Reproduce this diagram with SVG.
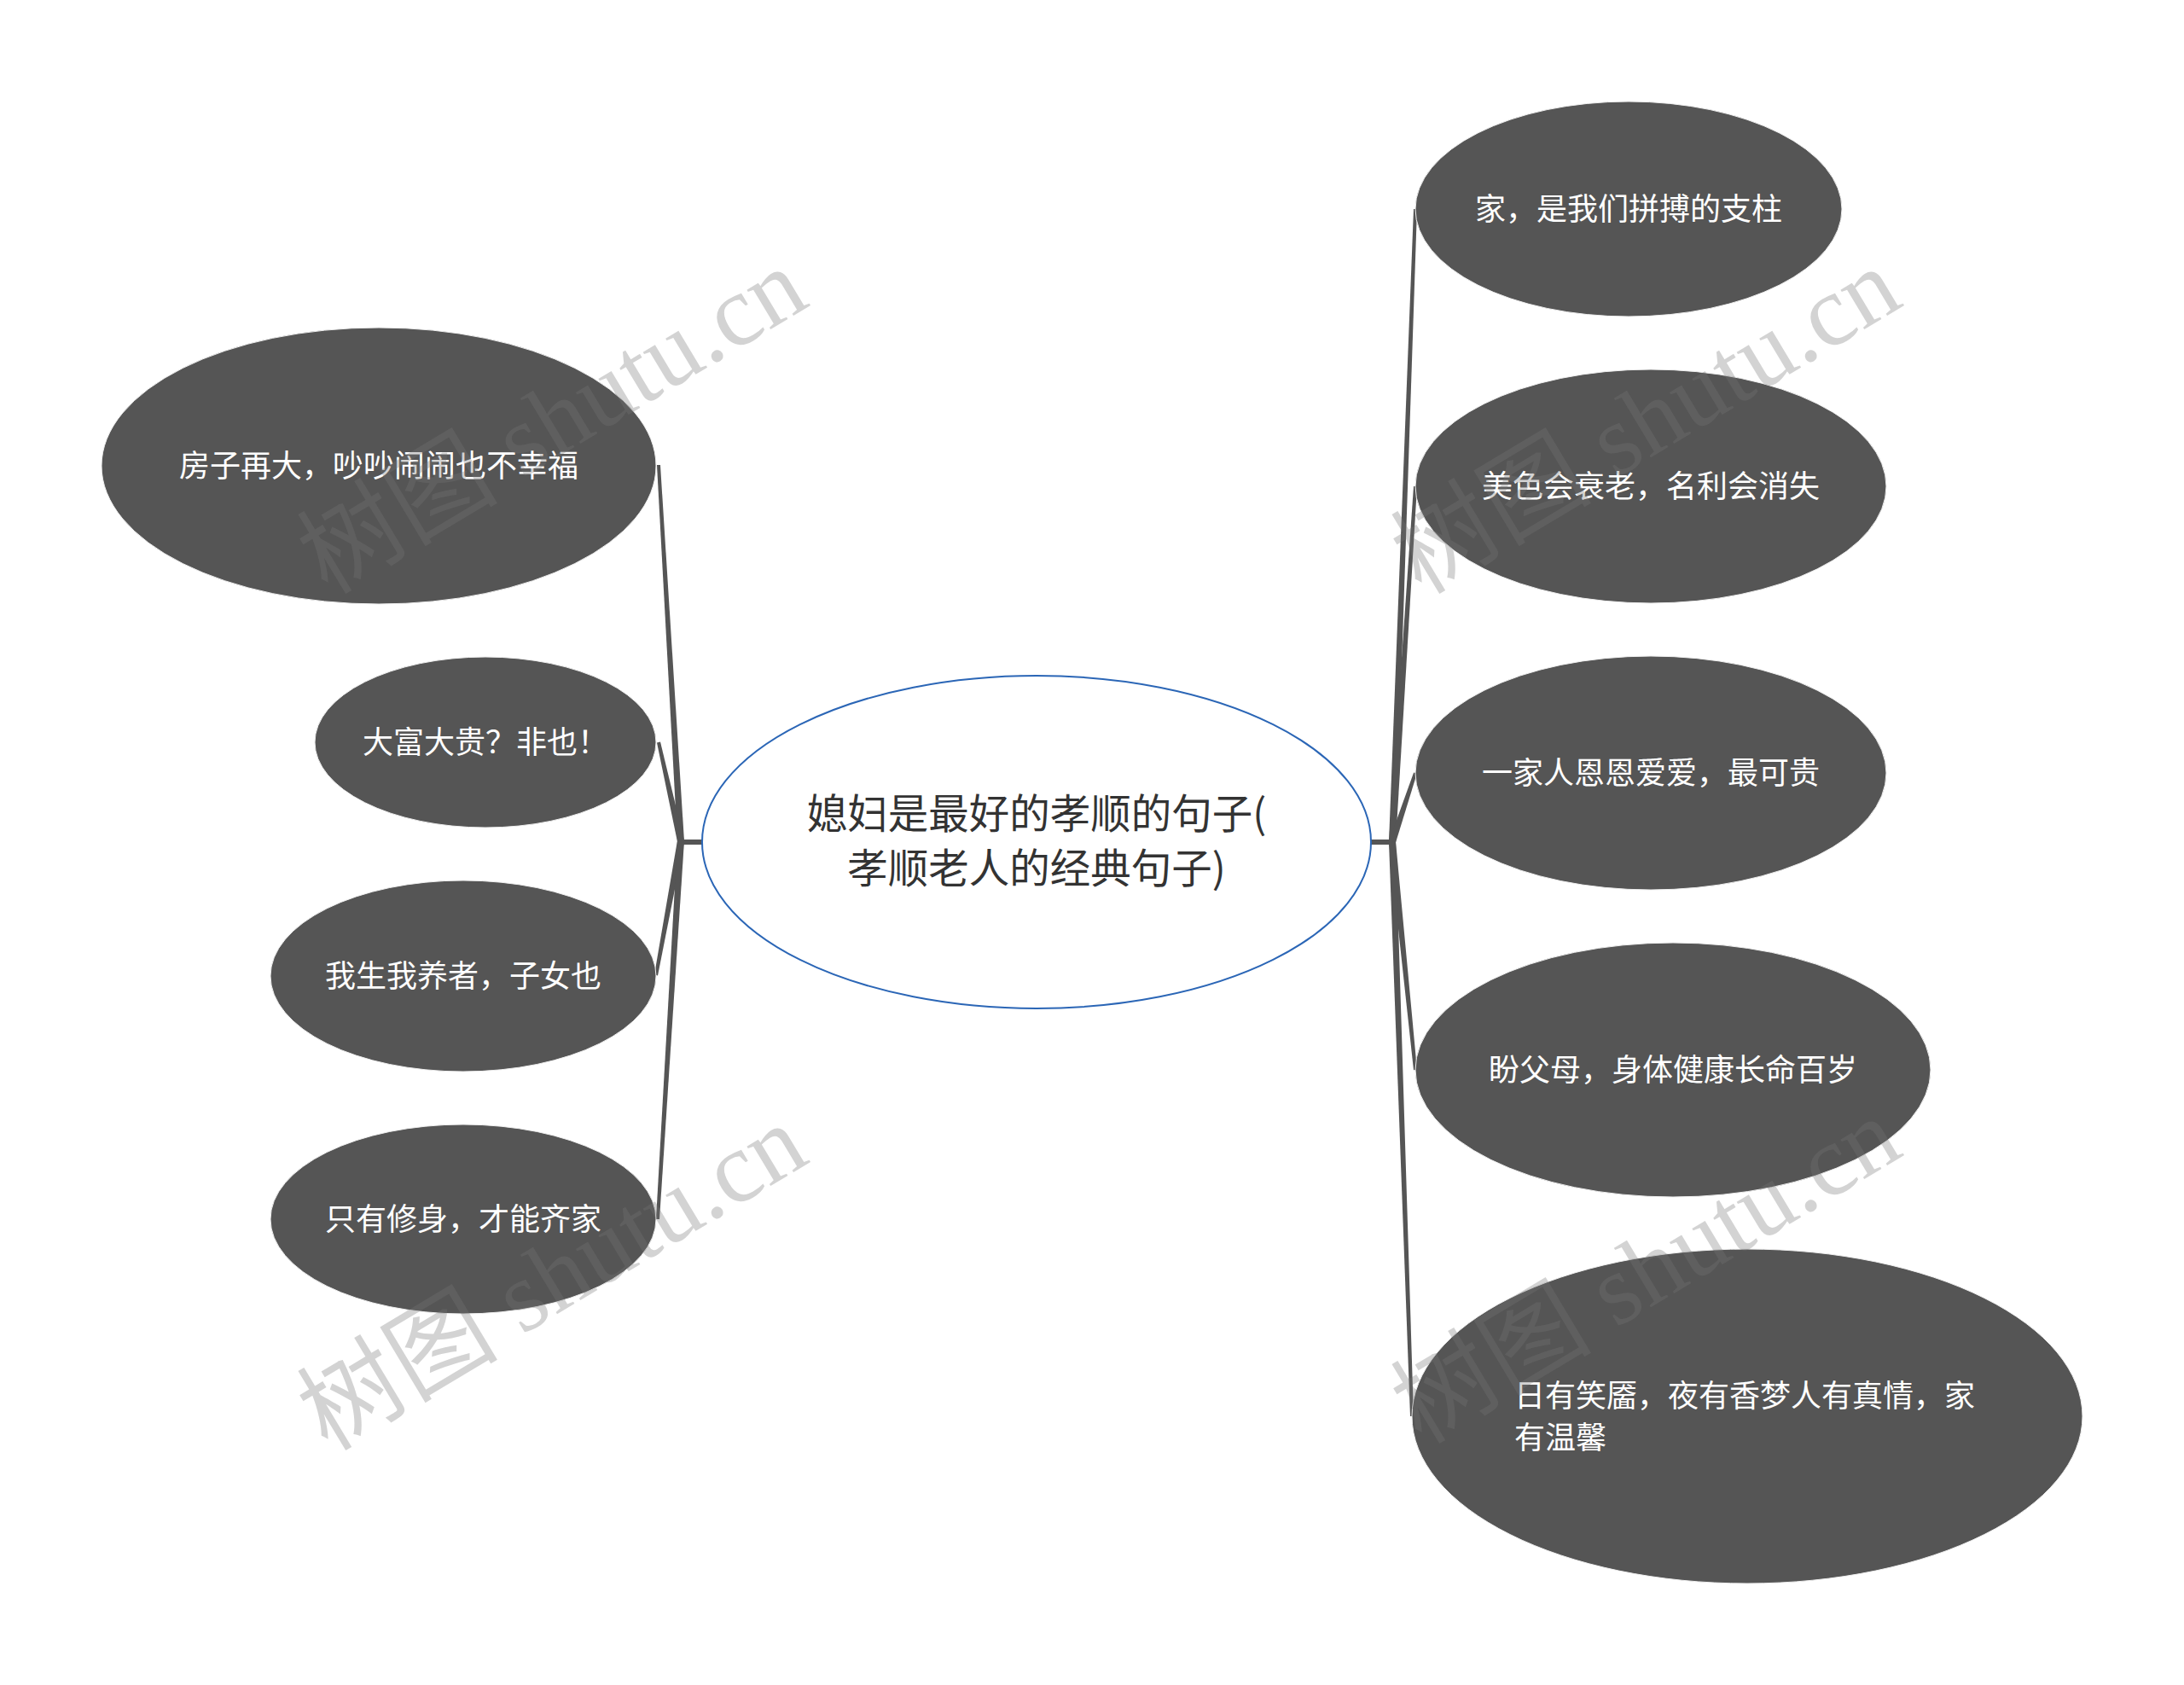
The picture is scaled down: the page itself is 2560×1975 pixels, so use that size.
<svg xmlns="http://www.w3.org/2000/svg" width="2560" height="1975" viewBox="0 0 2560 1975">
<style>
.bg{fill:#ffffff}
.node{fill:#555555;stroke:#eeeeee;stroke-width:1}
.root{fill:#ffffff;stroke:#2b66b6;stroke-width:2}
.conn{fill:#555555;stroke:none}
.lbl{font-family:"Noto Sans CJK SC","Noto Sans",sans-serif;font-size:36px;fill:#ffffff}
.rootlbl{font-family:"Noto Sans CJK SC","Noto Sans",sans-serif;font-size:47.5px;fill:#333333;text-anchor:middle}
.mid{text-anchor:middle}
.wm{font-family:"Liberation Serif","Noto Sans CJK SC",serif;font-size:118px;fill:#767676;fill-opacity:0.32}
</style>
<rect class="bg" x="0" y="0" width="2560" height="1975"/>
<g id="connectors">
<rect class="conn" x="798" y="984" width="25" height="6"/>
<rect class="conn" x="1607" y="984" width="25" height="6"/>
<path class="conn" d="M794 986 L802 986 L774 545 L770 545 Z"/>
<path class="conn" d="M801.9 985.1 L774 869.6 L770 870.4 L794.1 986.9 Z"/>
<path class="conn" d="M802 986.7 L771 1143.4 L767 1142.6 L794 985.3 Z"/>
<path class="conn" d="M802 986 L773 1429 L769 1429 L794 986 Z"/>
<path class="conn" d="M1628 987 L1636 987 L1661 245 L1657 245 Z"/>
<path class="conn" d="M1628 987 L1636 987 L1661 570 L1657 570 Z"/>
<path class="conn" d="M1635.8 988.3 L1660.9 906.6 L1657.1 905.4 L1628.2 985.7 Z"/>
<path class="conn" d="M1636 986.6 L1661 1253.8 L1657 1254.2 L1628 987.4 Z"/>
<path class="conn" d="M1636 987 L1657 1660 L1653 1660 L1628 987 Z"/>
</g>
<g id="root">
<ellipse class="root" cx="1215" cy="987" rx="392" ry="195"/>
<text class="rootlbl" x="1215" y="971">媳妇是最好的孝顺的句子(</text>
<text class="rootlbl" x="1215" y="1035">孝顺老人的经典句子)</text>
</g>
<g id="node-l1">
<ellipse class="node" cx="444" cy="546" rx="325" ry="162"/>
<text class="lbl mid" x="444" y="559">房子再大，吵吵闹闹也不幸福</text>
</g>
<g id="node-l2">
<ellipse class="node" cx="569" cy="870" rx="200" ry="100"/>
<text class="lbl mid" x="569" y="883">大富大贵？非也！</text>
</g>
<g id="node-l3">
<ellipse class="node" cx="543" cy="1144" rx="226" ry="112"/>
<text class="lbl mid" x="543" y="1157">我生我养者，子女也</text>
</g>
<g id="node-l4">
<ellipse class="node" cx="543" cy="1429" rx="226" ry="111"/>
<text class="lbl mid" x="543" y="1442">只有修身，才能齐家</text>
</g>
<g id="node-r1">
<ellipse class="node" cx="1909" cy="245" rx="250" ry="126"/>
<text class="lbl mid" x="1909" y="258">家，是我们拼搏的支柱</text>
</g>
<g id="node-r2">
<ellipse class="node" cx="1935" cy="570" rx="276" ry="137"/>
<text class="lbl mid" x="1935" y="583">美色会衰老，名利会消失</text>
</g>
<g id="node-r3">
<ellipse class="node" cx="1935" cy="906" rx="276" ry="137"/>
<text class="lbl mid" x="1935" y="919">一家人恩恩爱爱，最可贵</text>
</g>
<g id="node-r4">
<ellipse class="node" cx="1961" cy="1254" rx="302" ry="149"/>
<text class="lbl mid" x="1961" y="1267">盼父母，身体健康长命百岁</text>
</g>
<g id="node-r5">
<ellipse class="node" cx="2048" cy="1660" rx="393" ry="196"/>
<text class="lbl" x="1775" y="1649">日有笑靥，夜有香梦人有真情，家</text>
<text class="lbl" x="1775" y="1698">有温馨</text>
</g>
<g id="watermarks">
<text class="wm" x="384" y="698" transform="rotate(-31 384 698)">树图 shutu.cn</text>
<text class="wm" x="1666" y="698" transform="rotate(-31 1666 698)">树图 shutu.cn</text>
<text class="wm" x="384" y="1702" transform="rotate(-31 384 1702)">树图 shutu.cn</text>
<text class="wm" x="1666" y="1694" transform="rotate(-31 1666 1694)">树图 shutu.cn</text>
</g>
</svg>
